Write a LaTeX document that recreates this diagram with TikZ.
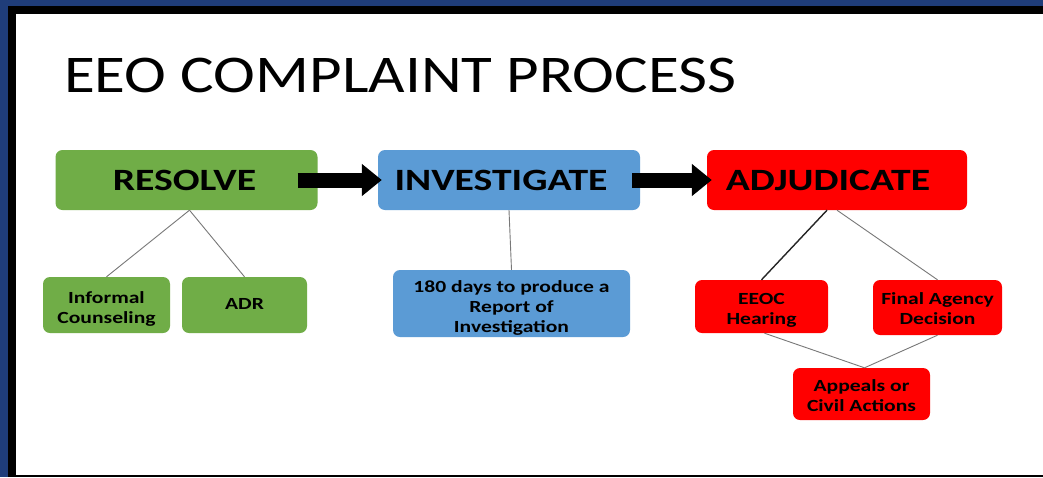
\documentclass[tikz,border=0pt]{standalone}
\usepackage{fontspec}
\setmainfont{Carlito}
\usetikzlibrary{arrows.meta}
\definecolor{navy}{RGB}{31,61,122}
\definecolor{gfill}{RGB}{112,173,71}
\definecolor{bfill}{RGB}{91,155,213}
\definecolor{rfill}{RGB}{255,0,0}
\definecolor{conn}{RGB}{120,120,120}
\newcommand\sx[1]{\scalebox{1.19}[1]{#1}}
\newcommand\mx[1]{\scalebox{1.28}[1]{#1}}
\newcommand\bx[1]{\scalebox{1.27}[1]{#1}}
\newcommand\stk[2]{\raisebox{-#1}[\height][\depth]{\begin{tabular}{@{}c@{}}#2\end{tabular}}}
\tikzset{
  box/.style={rounded corners=7pt, inner sep=0pt, align=center, text=black},
  mainbox/.style={box, minimum height=60pt, minimum width=262pt, font=\fontsize{31}{36}\selectfont\bfseries},
  subbox/.style={box, font=\fontsize{17}{20}\selectfont\bfseries},
  bigarrow/.style={line width=15pt, -{Triangle[length=20pt,width=31pt]}, black},
  link/.style={draw=conn, line width=0.9pt},
}
\begin{document}
\begin{tikzpicture}[x=1pt,y=-1pt]
\useasboundingbox (0,0) rectangle (1043,477);
\fill[navy] (0,0) rectangle (1043,477);
\fill[black] (8,6) rectangle (1043,477);
\fill[white] (16,14) rectangle (1043,475);
\node[anchor=base west, inner sep=0pt, font=\fontsize{53}{60}\selectfont] (title) at (64,92) {\sx{EEO COMPLAINT PROCESS}};
\node[mainbox, fill=gfill] (res) at (186.5,180) {\mx{RESOLVE}\hspace*{4pt}};
\node[mainbox, fill=bfill] (inv) at (509,180) {\mx{INVESTIGATE}\hspace*{16pt}};
\node[mainbox, fill=rfill, minimum width=260pt] (adj) at (837,180) {\mx{ADJUDICATE}\hspace*{18pt}};
\node[subbox, fill=gfill, minimum width=127pt, minimum height=56pt] (inf) at (106.5,305) {\stk{4pt}{\bx{Informal}\\\bx{Counseling}}};
\node[subbox, fill=gfill, minimum width=125pt, minimum height=56pt] (adr) at (244.5,305) {\stk{0pt}{\bx{ADR}}};
\node[subbox, fill=bfill, minimum width=237pt, minimum height=67pt] (roi) at (511.5,303.5) {\stk{5pt}{\bx{180 days to produce a}\\\bx{Report of}\\\bx{Investigation}}};
\node[subbox, fill=rfill, minimum width=133pt, minimum height=53pt] (eeoc) at (761.5,306.5) {\stk{4pt}{\bx{EEOC}\\\bx{Hearing}}};
\node[subbox, fill=rfill, minimum width=129pt, minimum height=55pt] (fad) at (937.5,307.5) {\stk{3pt}{\bx{Final Agency}\\\bx{Decision}}};
\node[subbox, fill=rfill, minimum width=137pt, minimum height=52pt] (app) at (861.5,394) {\stk{3pt}{\bx{Appeals or}\\\bx{Civil Actions}}};
\draw[bigarrow] ([xshift=-20pt]res.east) -- ([xshift=4pt]inv.west);
\draw[bigarrow] ([xshift=-8pt]inv.east) -- ([xshift=5pt]adj.west);
\draw[link] ([xshift=3pt]res.south) -- (inf.north);
\draw[link] ([xshift=3pt]res.south) -- (adr.north);
\draw[link] (inv.south) -- (roi.north);
\draw[link, draw=black!85, line width=1.4pt] ([xshift=-10pt]adj.south) -- (eeoc.north);
\draw[link] (adj.south) -- (fad.north);
\draw[link] ([xshift=3pt]eeoc.south) -- ([xshift=3pt]app.north);
\draw[link] (fad.south) -- ([xshift=3pt]app.north);
\end{tikzpicture}
\end{document}
